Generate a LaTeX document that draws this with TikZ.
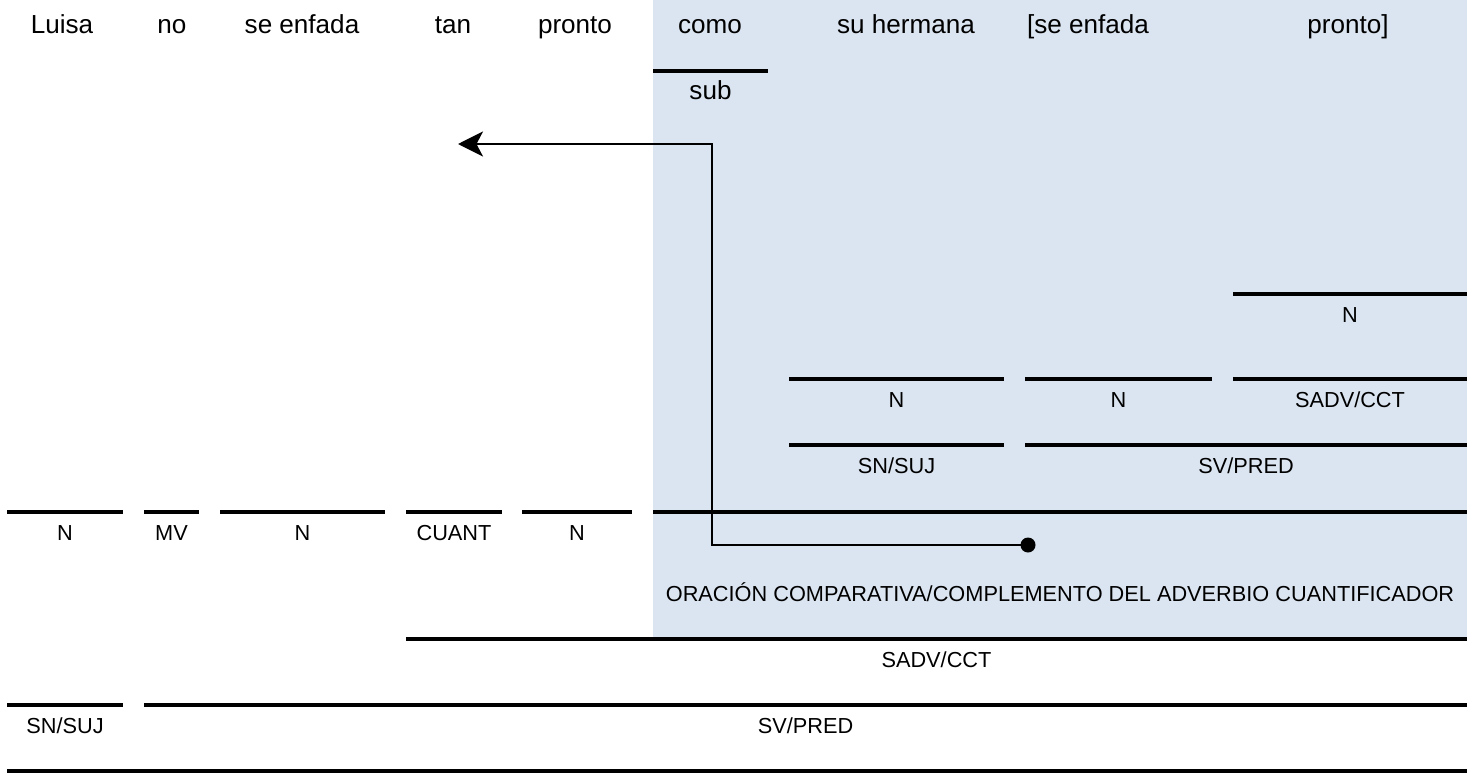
\documentclass[tikz,border=0pt]{standalone}
\usepackage{fontspec}
\setmainfont{Liberation Sans}
\usetikzlibrary{arrows.meta}
\definecolor{fondo}{HTML}{DBE5F1}

\tikzset{
  raya/.style={line width=2pt},
  palabra/.style={anchor=base, inner sep=0pt, font=\fontsize{12}{14}\selectfont},
  etiq/.style={anchor=base, inner sep=0pt, font=\fontsize{10}{12}\selectfont},
  flecha/.style={line width=.9pt, ->, >={Stealth[length=11.5pt,width=11.5pt,inset=3pt]}},
}

\begin{document}
\begin{tikzpicture}[x=.46pt, y=-.46pt]
\useasboundingbox (0,0) rectangle (1467,777);
% fondo de la subordinada
\fill[fondo] (653,0) rectangle (1467,639);

% palabras
\foreach \x/\p [count=\i] in {62/Luisa, 172/no, 302/se enfada, 453/tan, 575/pronto,
  710/como, 906/su hermana, 1088/{[se enfada}, 1348/{pronto]}}
  \node[palabra] (w\i) at (\x,33) {\p};

\draw[raya] (653,71) -- (768,71) node[midway, palabra, yshift=-13.3pt] (sub) {sub};

% rayas y funciones
\foreach \xa/\xb/\y/\t [count=\i] in {
  1233/1467/294/N,
  789/1004/379/N, 1025/1212/379/N, 1233/1467/379/{SADV/CCT},
  789/1004/445/{SN/SUJ}, 1025/1467/445/{SV/PRED},
  7/123/512/N, 144/199/512/MV, 220/385/512/N, 406/502/512/CUANT, 522/632/512/N,
  406/1467/639/{SADV/CCT},
  7/123/705/{SN/SUJ}, 144/1467/705/{SV/PRED}}
 \draw[raya] (\xa,\y) -- (\xb,\y) node[midway, etiq, yshift=-12.9pt] (r\i) {\t};

\draw[raya] (653,512) -- (1467,512);
\node[etiq] (orac) at (1060,601) {ORACIÓN COMPARATIVA/COMPLEMENTO DEL ADVERBIO CUANTIFICADOR};
\draw[raya] (7,771) -- (1467,771);

% flecha de "como"
\coordinate (ini) at (1028,545);
\coordinate (codo) at (712,144);
\coordinate (fin) at (458,144);
\fill (ini) circle[radius=3.45pt];
\draw[flecha] (ini) -| (codo) -- (fin);
\end{tikzpicture}
\end{document}
